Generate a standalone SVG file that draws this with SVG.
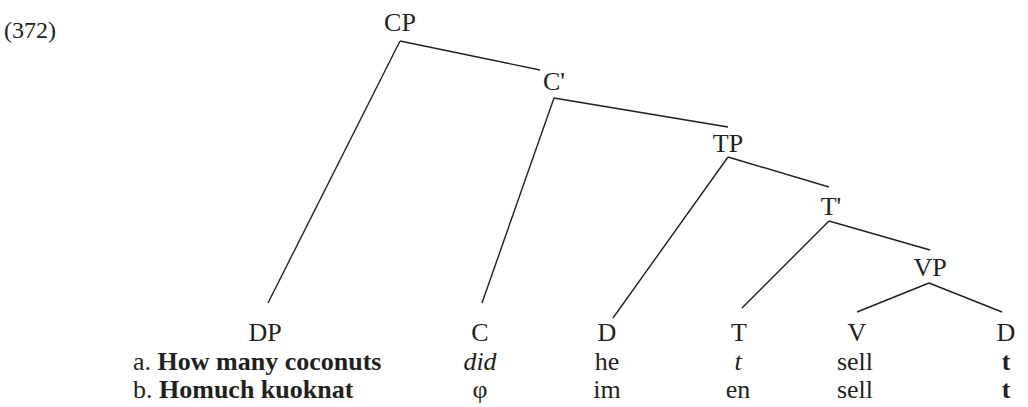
<svg xmlns="http://www.w3.org/2000/svg" width="1028" height="407" viewBox="0 0 1028 407">
<style>
text{font-family:"Liberation Serif","Times New Roman",serif;font-size:26px;fill:#231f20}
.c{text-anchor:middle}
.b{font-weight:bold}
.i{font-style:italic}
line{stroke:#231f20;stroke-width:1.4}
</style>
<rect width="1028" height="407" fill="#fff"/>
<text id="ex" x="4" y="38" style="font-size:24px">(372)</text>
<g id="connectors">
<line x1="400" y1="41" x2="540" y2="70"/>
<line x1="400" y1="41" x2="268" y2="303"/>
<line x1="554" y1="98" x2="728" y2="127"/>
<line x1="554" y1="98" x2="482" y2="303"/>
<line x1="728" y1="157" x2="829" y2="187"/>
<line x1="728" y1="157" x2="613" y2="318"/>
<line x1="829" y1="221" x2="930" y2="250"/>
<line x1="829" y1="221" x2="742" y2="308"/>
<line x1="929" y1="283" x2="857" y2="312"/>
<line x1="929" y1="283" x2="1002" y2="312"/>
</g>
<g id="CP"><text class="c" x="400" y="31">CP</text></g>
<g id="Cbar"><text class="c" x="554" y="90">C'</text></g>
<g id="TP"><text class="c" x="728" y="152">TP</text></g>
<g id="Tbar"><text class="c" x="831" y="215">T'</text></g>
<g id="VP"><text class="c" x="930" y="276">VP</text></g>
<g id="DP"><text class="c" x="265" y="341">DP</text></g>
<g id="C"><text class="c" x="480" y="341">C</text><text class="c i" x="480" y="370">did</text><text class="c" x="480" y="398">φ</text></g>
<g id="D1"><text class="c" x="607" y="341">D</text><text class="c" x="607" y="370">he</text><text class="c" x="607" y="398">im</text></g>
<g id="T"><text class="c" x="739" y="341">T</text><text class="c i" x="738" y="370">t</text><text class="c" x="738" y="398">en</text></g>
<g id="V"><text class="c" x="857" y="341">V</text><text class="c" x="855" y="370">sell</text><text class="c" x="855" y="398">sell</text></g>
<g id="D2"><text class="c" x="1006" y="341">D</text><text class="c b" x="1006" y="370">t</text><text class="c b" x="1006" y="398">t</text></g>
<g id="rows"><text x="133" y="370">a. <tspan class="b">How many coconuts</tspan></text><text x="133" y="398">b. <tspan class="b">Homuch kuoknat</tspan></text></g>
</svg>
